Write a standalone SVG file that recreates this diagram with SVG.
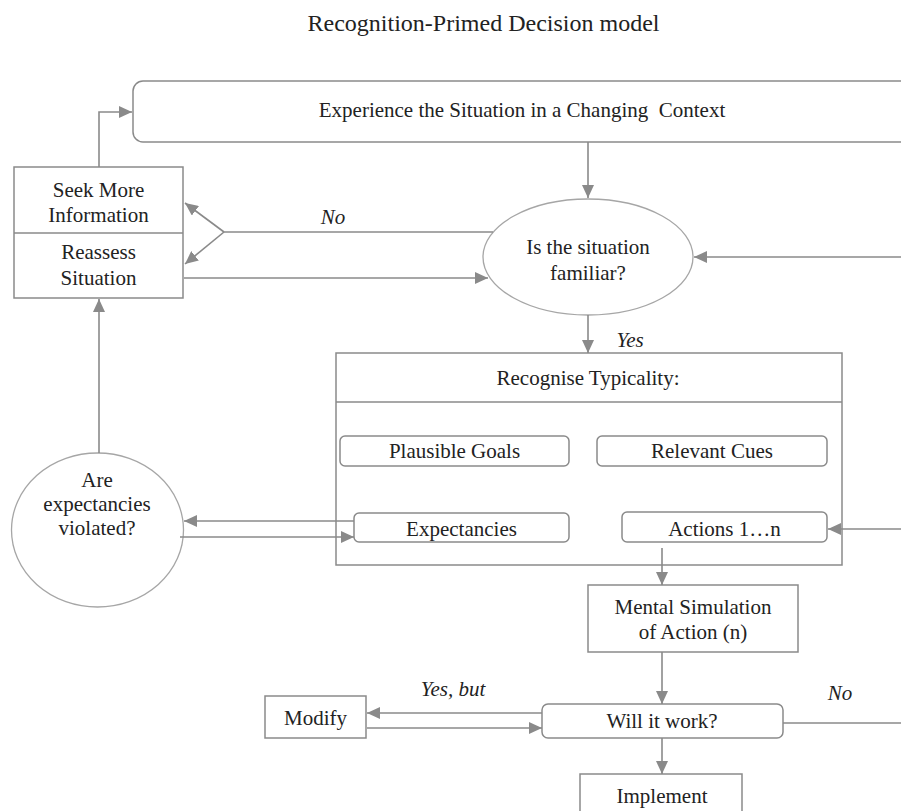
<svg xmlns="http://www.w3.org/2000/svg" width="901" height="811" viewBox="0 0 901 811">
<style>
.ln{stroke:#8a8a8a;stroke-width:1.6;fill:none}
.bx{stroke:#8a8a8a;stroke-width:1.5;fill:#fff}
.el{stroke:#a6a6a6;stroke-width:1.3;fill:#fff}
.t{font-family:"Liberation Serif", Times, serif;font-size:21px;fill:#222;text-anchor:middle}
.i{font-style:italic}
</style>
<defs>
<marker id="ah" markerUnits="userSpaceOnUse" markerWidth="14" markerHeight="12" refX="13" refY="6" orient="auto">
<path d="M0,0 L13,6 L0,12 z" fill="#8a8a8a"/>
</marker>
</defs>
<rect width="901" height="811" fill="#fff"/>
<text class="t" x="483.5" y="31" style="font-size:24px">Recognition-Primed Decision model</text>

<g id="experience">
<rect class="bx" x="133" y="81" width="800" height="61" rx="10"/>
<text class="t" x="522" y="117" xml:space="preserve">Experience the Situation in a Changing  Context</text>
</g>

<g id="seek-reassess">
<rect class="bx" x="14" y="167" width="169" height="131"/>
<line class="ln" x1="14" y1="233" x2="183" y2="233"/>
<text class="t" x="98.5" y="197">Seek More</text>
<text class="t" x="98.5" y="222">Information</text>
<text class="t" x="98.5" y="259">Reassess</text>
<text class="t" x="98.5" y="285">Situation</text>
</g>

<g id="familiar">
<ellipse class="el" cx="588" cy="257" rx="105" ry="58"/>
<text class="t" x="588" y="254">Is the situation</text>
<text class="t" x="588" y="280">familiar?</text>
</g>

<g id="recognise">
<rect class="bx" x="336" y="353" width="506" height="212"/>
<line class="ln" x1="336" y1="402" x2="842" y2="402"/>
<text class="t" x="588" y="385">Recognise Typicality:</text>
</g>

<g id="goals">
<rect class="bx" x="340" y="436" width="229" height="30" rx="5"/>
<text class="t" x="454.5" y="458">Plausible Goals</text>
</g>
<g id="cues">
<rect class="bx" x="597" y="436" width="230" height="30" rx="5"/>
<text class="t" x="712" y="458">Relevant Cues</text>
</g>
<g id="expectancies">
<rect class="bx" x="354" y="513" width="215" height="29" rx="5"/>
<text class="t" x="461.5" y="536">Expectancies</text>
</g>
<g id="actions">
<rect class="bx" x="622" y="512" width="205" height="30" rx="5"/>
<text class="t" x="724.5" y="536">Actions 1…n</text>
</g>

<g id="violated">
<ellipse class="el" cx="97.5" cy="530" rx="86" ry="77"/>
<text class="t" x="97" y="487">Are</text>
<text class="t" x="97" y="511">expectancies</text>
<text class="t" x="97" y="535">violated?</text>
</g>

<g id="simulation">
<rect class="bx" x="588" y="585" width="210" height="67"/>
<text class="t" x="693" y="614">Mental Simulation</text>
<text class="t" x="693" y="639">of Action (n)</text>
</g>

<g id="will-work">
<rect class="bx" x="542" y="704" width="241" height="34" rx="6"/>
<text class="t" x="662" y="728">Will it work?</text>
</g>

<g id="modify">
<rect class="bx" x="265" y="696" width="101" height="42"/>
<text class="t" x="315.5" y="725">Modify</text>
</g>

<g id="implement">
<rect class="bx" x="580" y="774" width="162" height="60"/>
<text class="t" x="662" y="803">Implement</text>
</g>

<g id="connectors">
<path class="ln" d="M99,167 V112 H132" marker-end="url(#ah)"/>
<path class="ln" d="M588,142 V198" marker-end="url(#ah)"/>
<path class="ln" d="M493,232 H224"/>
<path class="ln" d="M224,232 L185,203" marker-end="url(#ah)"/>
<path class="ln" d="M224,232 L185,264" marker-end="url(#ah)"/>
<path class="ln" d="M184,278 H488" marker-end="url(#ah)"/>
<path class="ln" d="M901,257 H694" marker-end="url(#ah)"/>
<path class="ln" d="M588,315 V353" marker-end="url(#ah)"/>
<path class="ln" d="M99,453 V299" marker-end="url(#ah)"/>
<path class="ln" d="M354,521 H184" marker-end="url(#ah)"/>
<path class="ln" d="M180,537 H354" marker-end="url(#ah)"/>
<path class="ln" d="M901,529 H828" marker-end="url(#ah)"/>
<path class="ln" d="M662,548 V585" marker-end="url(#ah)"/>
<path class="ln" d="M662,652 V704" marker-end="url(#ah)"/>
<path class="ln" d="M542,713 H367" marker-end="url(#ah)"/>
<path class="ln" d="M367,728 H542" marker-end="url(#ah)"/>
<path class="ln" d="M783,723 H901"/>
<path class="ln" d="M662,738 V774" marker-end="url(#ah)"/>
<text class="t i" x="333" y="224">No</text>
<text class="t i" x="630" y="347">Yes</text>
<text class="t i" x="453" y="696">Yes, but</text>
<text class="t i" x="840" y="700">No</text>
</g>
</svg>
